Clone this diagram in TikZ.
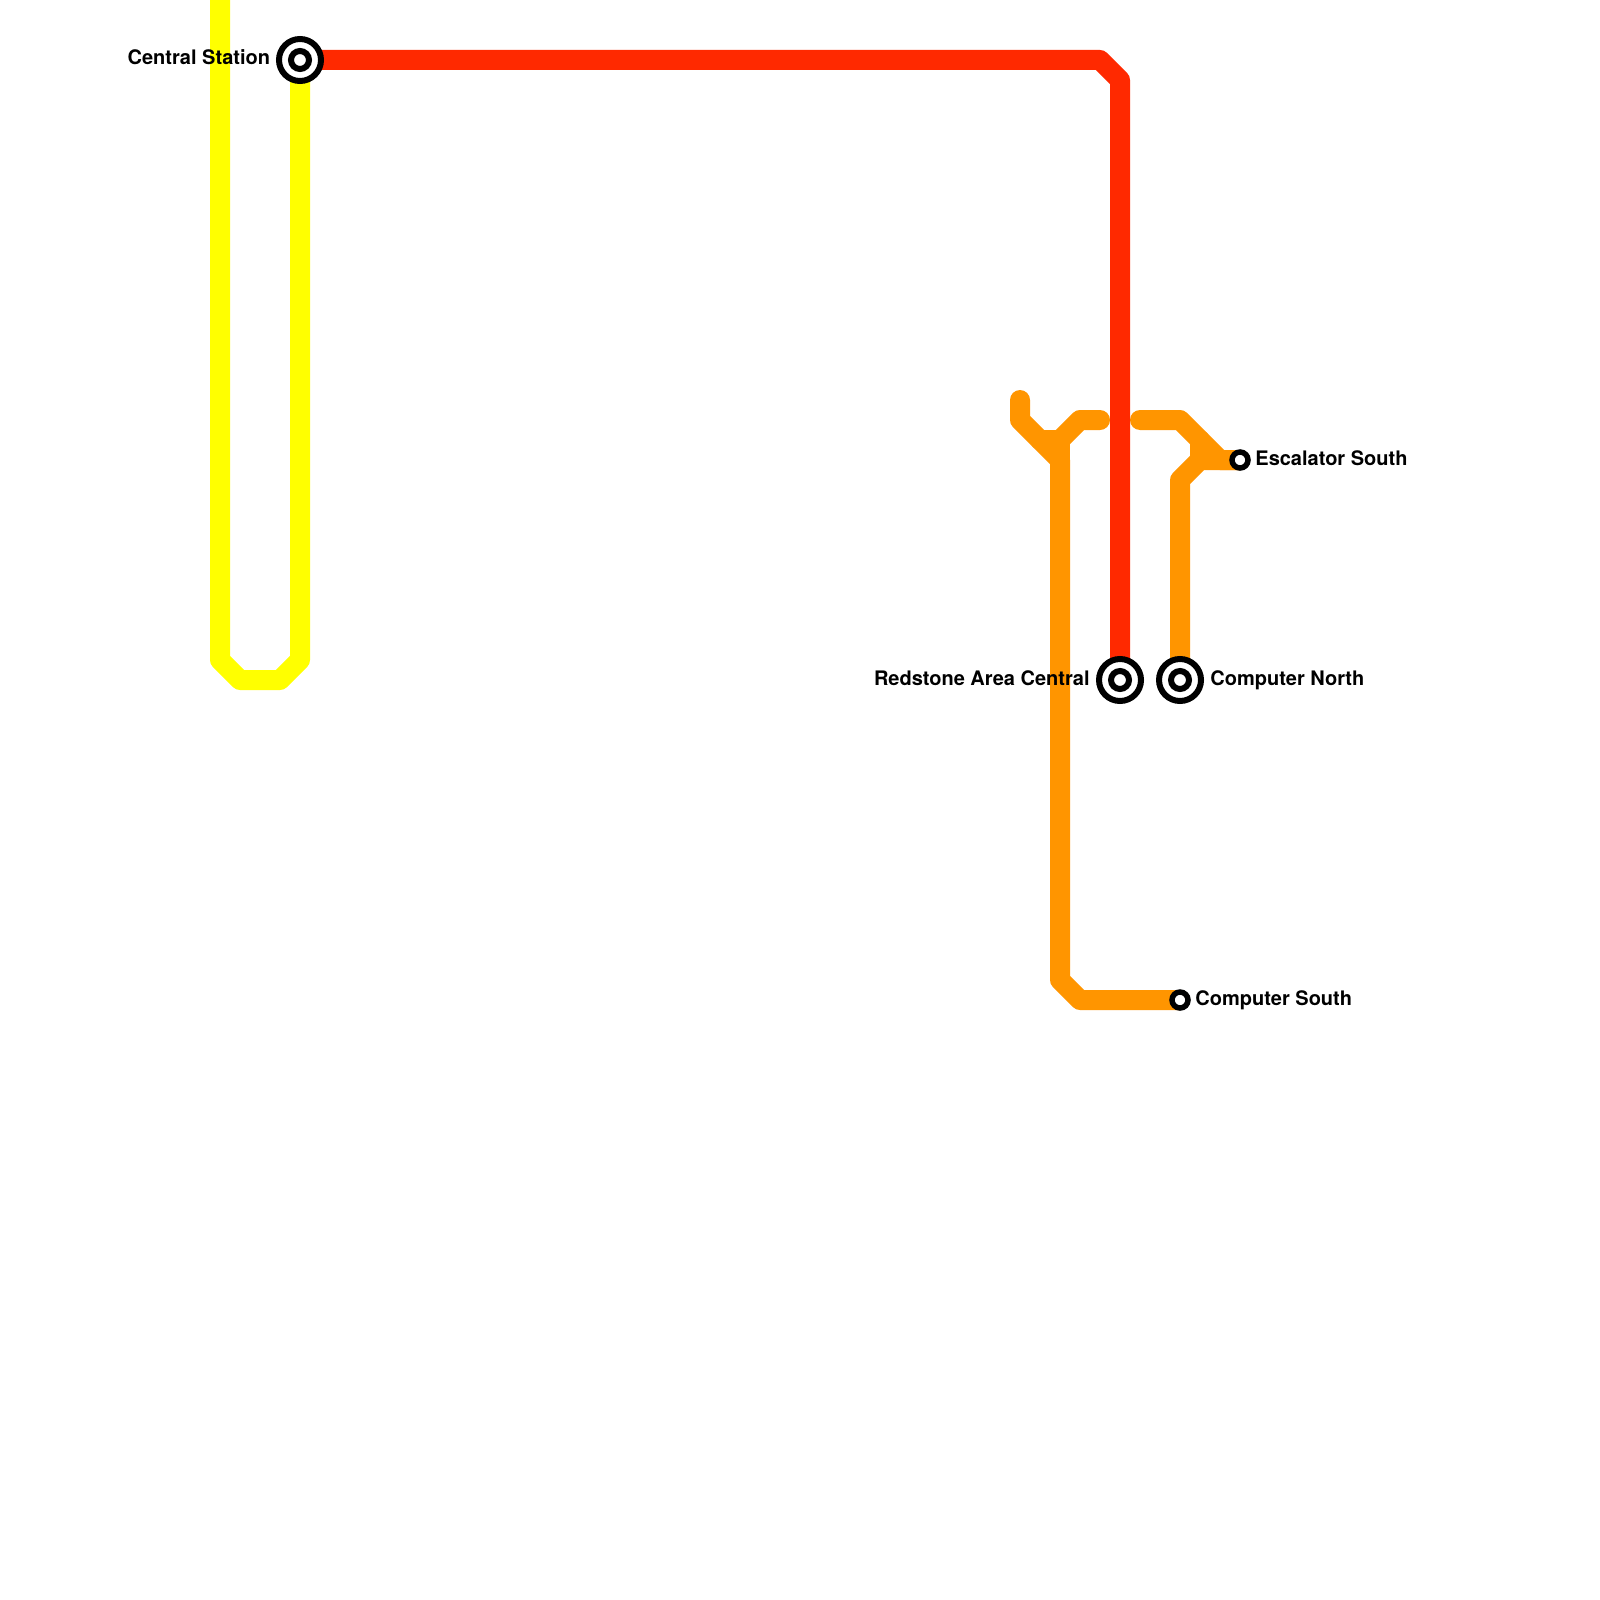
\documentclass[tikz,border=0pt]{standalone}
\usepackage{fontspec}
\setmainfont{TeX Gyre Heros}
\definecolor{lineyellow}{HTML}{FFFF00}
\definecolor{linered}{HTML}{FF2900}
\definecolor{lineorange}{HTML}{FF9500}
\tikzset{
  route/.style={line width=10pt,line join=round,line cap=round},
  yellowroute/.style={route,draw=lineyellow},
  redroute/.style={route,draw=linered},
  orangeroute/.style={route,draw=lineorange},
  ringouter/.style={circle,draw=black,fill=white,line width=3pt,minimum size=21pt,inner sep=0pt,outer sep=0pt},
  ringinner/.style={circle,draw=black,fill=white,line width=3pt,minimum size=9pt,inner sep=0pt,outer sep=0pt},
  ringsmall/.style={circle,draw=black,fill=white,line width=2.75pt,minimum size=8pt,inner sep=0pt,outer sep=0pt},
  stationlabel/.style={font=\bfseries\fontsize{10pt}{12pt}\selectfont,text=black,inner sep=0pt}
}
\begin{document}
\begin{tikzpicture}[x=0.5pt,y=-0.5pt]
\useasboundingbox[fill=white] (0,0) rectangle (1600,1600);
% stations
\coordinate (central) at (300,60);
\coordinate (redstone) at (1120,680);
\coordinate (compn) at (1180,680);
\coordinate (comps) at (1180,1000);
\coordinate (escs) at (1240,460);
% yellow bends
\coordinate (y0) at (220,-20);
\coordinate (y1) at (220,660);
\coordinate (y2) at (240,680);
\coordinate (y3) at (280,680);
\coordinate (y4) at (300,660);
% red bends
\coordinate (r1) at (1100,60);
\coordinate (r2) at (1120,80);
% orange bends
\coordinate (o1) at (1020,400);
\coordinate (o2) at (1020,420);
\coordinate (o3) at (1060,460);
\coordinate (o4) at (1060,980);
\coordinate (o5) at (1080,1000);
\coordinate (o6) at (1060,440);
\coordinate (o7) at (1080,420);
\coordinate (o8) at (1100,420);
\coordinate (o9) at (1040,440);
\coordinate (o10) at (1140,420);
\coordinate (o11) at (1180,420);
\coordinate (o12) at (1220,460);
\coordinate (o13) at (1180,480);
\coordinate (o14) at (1200,460);
\coordinate (o15) at (1200,440);
% lines
\draw[yellowroute] (y0) -- (y1) -- (y2) -- (y3) -- (y4) -- (central);
\draw[orangeroute] (o1) -- (o2) -- (o3) -- (o4) -- (o5) -- (comps);
\draw[orangeroute] (o9) -- (o6) -- (o7) -- (o8);
\draw[orangeroute] (o6) -- (o3);
\draw[orangeroute] (o10) -- (o11) -- (o12) -- (escs);
\draw[orangeroute] (compn) -- (o13) -- (o14) -- (escs);
\draw[orangeroute] (o15) -- (o14);
\draw[redroute] (central) -- (r1) -- (r2) -- (redstone);
% station markers
\node[ringouter] (centralA) at (central) {};
\node[ringinner] (centralB) at (central) {};
\node[ringouter] (redstoneA) at (redstone) {};
\node[ringinner] (redstoneB) at (redstone) {};
\node[ringouter] (compnA) at (compn) {};
\node[ringinner] (compnB) at (compn) {};
\node[ringsmall] (compsA) at (comps) {};
\node[ringsmall] (escsA) at (escs) {};
% labels
\node[stationlabel,anchor=base east] (centralL) at (270.5,65) {Central Station};
\node[stationlabel,anchor=base east] (redstoneL) at (1090,685) {Redstone Area Central};
\node[stationlabel,anchor=base west] (compnL) at (1210,685) {Computer North};
\node[stationlabel,anchor=base west] (compsL) at (1195,1005) {Computer South};
\node[stationlabel,anchor=base west] (escsL) at (1255,465) {Escalator South};
\end{tikzpicture}
\end{document}
